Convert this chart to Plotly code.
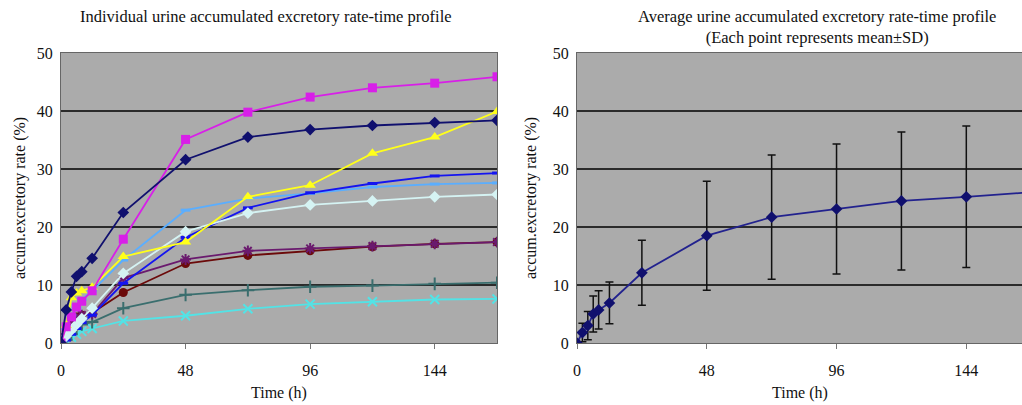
import plotly.graph_objects as go
from plotly.subplots import make_subplots

time_h = [0, 2, 4, 6, 8, 12, 24, 48, 72, 96, 120, 144, 168]

subj_navy = [0, 5.7, 8.8, 11.5, 12.3, 14.6, 22.5, 31.6, 35.5, 36.8, 37.5, 38.0, 38.4]
subj_magenta = [0, 2.8, 4.5, 6.2, 7.2, 9.0, 17.9, 35.1, 39.8, 42.4, 44.0, 44.8, 45.9]
subj_yellow = [0, 3.0, 7.8, 8.6, 9.0, 9.6, 14.9, 17.4, 25.2, 27.2, 32.7, 35.5, 39.9]
subj_skyblue = [0, 2.5, 4.8, 6.0, 7.5, 9.0, 14.3, 22.9, 24.9, 25.8, 26.9, 27.4, 27.6]
subj_blue = [0, 0.5, 1.5, 2.5, 3.5, 4.8, 10.3, 18.2, 23.3, 25.9, 27.5, 28.8, 29.3]
subj_pale = [0, 1.2, 2.2, 3.2, 4.2, 6.0, 12.0, 19.2, 22.4, 23.8, 24.5, 25.2, 25.6]
subj_purple = [0, 1.5, 3.0, 4.2, 4.8, 5.0, 11.2, 14.4, 15.9, 16.3, 16.7, 17.1, 17.4]
subj_maroon = [0, 1.5, 3.2, 4.5, 4.8, 5.2, 8.7, 13.7, 15.1, 15.9, 16.6, 17.1, 17.4]
subj_teal = [0, 0.5, 1.5, 2.5, 3.2, 3.6, 6.0, 8.3, 9.1, 9.7, 9.9, 10.2, 10.4]
subj_turq = [0, 0.3, 1.0, 1.5, 2.0, 2.5, 3.8, 4.7, 5.9, 6.7, 7.1, 7.5, 7.6]

mean_vals = [0, 1.8, 3.0, 5.0, 5.7, 6.9, 12.1, 18.5, 21.7, 23.1, 24.5, 25.2, 26.0]
sd_vals = [0, 1.6, 2.45, 3.1, 3.3, 3.6, 5.6, 9.4, 10.7, 11.2, 11.9, 12.2, 12.4]

x_ticks = [0, 48, 96, 144]
y_ticks = [0, 10, 20, 30, 40, 50]
y_grid = [10, 20, 30, 40]

FONT = "Liberation Serif, Times New Roman, serif"
TXT = "#111111"

fig = make_subplots(rows=1, cols=2)

series = [
    (subj_turq, "#52E3E6", "x-thin", 9, 2),
    (subj_teal, "#3A6E6E", "cross-thin", 9, 2),
    (subj_maroon, "#6B0A0A", "circle", 9, 0),
    (subj_purple, "#6A1A6E", "asterisk", 9, 2),
    (subj_skyblue, "#5AAEFF", "line-ew", 7, 3),
    (subj_blue, "#1414F0", "line-ew", 7, 3),
    (subj_pale, "#D5F3F3", "diamond", 9, 0),
    (subj_yellow, "#FFFF1A", "triangle-up", 10, 0),
    (subj_magenta, "#D81FE8", "square", 9, 0),
    (subj_navy, "#10106E", "diamond", 9, 0),
]

for vals, col, sym, size, lw in series:
    marker = dict(symbol=sym, size=size, color=col)
    if lw:
        marker["line"] = dict(color=col, width=lw)
    fig.add_trace(go.Scatter(x=time_h, y=vals, mode="lines+markers",
                             line=dict(color=col, width=1.8), marker=marker,
                             showlegend=False, cliponaxis=True), row=1, col=1)

fig.add_trace(go.Scatter(x=time_h, y=mean_vals, mode="lines+markers",
                         line=dict(color="#22228E", width=1.8),
                         marker=dict(symbol="diamond", size=9, color="#10106E"),
                         error_y=dict(type="data", array=sd_vals, color="#111111",
                                      thickness=1.5, width=4),
                         showlegend=False, cliponaxis=True), row=1, col=2)

ax_common = dict(showline=True, linecolor="#666666", linewidth=1, mirror=True,
                 tickfont=dict(family=FONT, size=16, color=TXT),
                 zeroline=False, automargin=False, showgrid=False)

X_DOM = [[61/1022, 497/1022], [577/1022, 1.0]]
Y_DOM = [62/405, 352/405]

fig.update_xaxes(range=[0, 168], tickvals=x_ticks, ticks="outside", ticklen=5,
                 tickcolor="#777777", ticklabelstandoff=8,
                 domain=X_DOM[0], **ax_common, row=1, col=1)
fig.update_xaxes(range=[0, 164.6], tickvals=x_ticks, ticks="outside", ticklen=5,
                 tickcolor="#777777", ticklabelstandoff=8,
                 domain=X_DOM[1], **ax_common, row=1, col=2)

for c in (1, 2):
    fig.update_yaxes(range=[0, 50], tickvals=y_ticks, ticks="", ticklabelstandoff=4,
                     domain=Y_DOM, **ax_common, row=1, col=c)

for xr, yr in (("x", "y"), ("x2", "y2")):
    for g in y_grid:
        fig.add_shape(type="line", xref=f"{xr} domain", yref=yr, x0=0, x1=1, y0=g, y1=g,
                      line=dict(color="#000000", width=1.6), layer="below")

# axis titles
for dom, ytx in ((X_DOM[0], 20), (X_DOM[1], 531)):
    fig.add_annotation(text="Time (h)", x=(dom[0] + dom[1]) / 2, y=1 - 393/405,
                       xref="paper", yref="paper", showarrow=False,
                       xanchor="center", yanchor="middle",
                       font=dict(family=FONT, size=16, color=TXT))
    fig.add_annotation(text="accum.excretory rate (%)", x=ytx/1022, y=(Y_DOM[0] + Y_DOM[1]) / 2,
                       xref="paper", yref="paper", showarrow=False, textangle=-90,
                       xanchor="center", yanchor="middle",
                       font=dict(family=FONT, size=16, color=TXT))

fig.add_annotation(text="Individual urine accumulated excretory rate-time profile",
                   x=266/1022, y=1 - 16/405, xref="paper", yref="paper",
                   xanchor="center", yanchor="middle",
                   showarrow=False, font=dict(family=FONT, size=16.5, color=TXT))
fig.add_annotation(text="Average urine accumulated excretory rate-time profile<br>(Each point represents mean±SD)",
                   x=817/1022, y=1 - 27/405, xref="paper", yref="paper",
                   xanchor="center", yanchor="middle",
                   showarrow=False, font=dict(family=FONT, size=16.5, color=TXT))

fig.update_layout(width=1022, height=405, margin=dict(l=0, r=0, t=0, b=0),
                  paper_bgcolor="white", plot_bgcolor="#ABABAB")

fig.write_html("out.html")
